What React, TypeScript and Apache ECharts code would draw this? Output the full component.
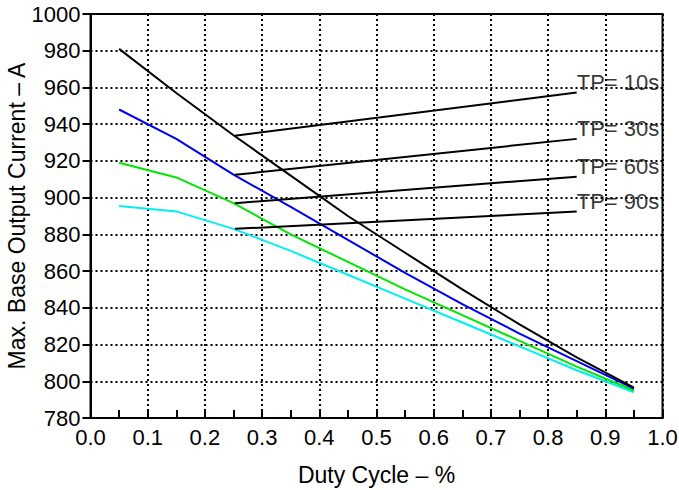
import React, { useEffect, useRef } from "react";
import * as echarts from "echarts";

const dutyCycle = [0.05, 0.15, 0.25, 0.35, 0.45, 0.55, 0.65, 0.75, 0.85, 0.95];
const tp10 = [981, 957, 934, 912, 890, 870, 850, 831, 813, 796.5];
const tp30 = [948, 932, 912.5, 895, 877, 859, 842, 826, 811, 796];
const tp60 = [919, 911, 897, 880, 865, 850, 836, 822, 808, 795];
const tp90 = [895.5, 892.5, 883, 871, 858, 845, 832, 819, 806, 794];

const seriesNames = ["TP= 10s", "TP= 30s", "TP= 60s", "TP= 90s"];
const seriesColors = ["#000000", "#0000f0", "#00e600", "#00f0f0"];

const leaderStartX = 0.2525;
const leaderStartY = [933.7, 912.4, 897, 883];
const leaderEndX = 0.85;
const leaderEndY = [957.2, 932, 911.4, 892.4];

const FONT = "'Liberation Sans', Arial, Helvetica, sans-serif";

export default function App() {
  const ref = useRef<HTMLDivElement>(null);

  useEffect(() => {
    if (!ref.current) return;
    const chart = echarts.init(ref.current, undefined, { renderer: "svg" });
    const values = [tp10, tp30, tp60, tp90];

    const dataSeries = values.map((vals, i) => ({
      name: seriesNames[i],
      type: "line",
      data: dutyCycle.map((x, j) => [x, vals[j]]),
      showSymbol: false,
      symbol: "none",
      lineStyle: { color: seriesColors[i], width: 2 },
      z: 3 + (3 - i),
    }));

    const leaderSeries = seriesNames.map((name, i) => ({
      name: name + " leader",
      type: "line",
      data: [
        [leaderStartX, leaderStartY[i]],
        [leaderEndX, leaderEndY[i]],
      ],
      symbol: "none",
      showSymbol: false,
      lineStyle: { color: "#000", width: 2 },
      z: 10,
    }));

    const labelSeries = {
      name: "labels",
      type: "scatter",
      symbol: "rect",
      symbolSize: 2,
      itemStyle: { color: "rgba(0,0,0,0)" },
      data: seriesNames.map((name, i) => ({
        value: [leaderEndX, leaderEndY[i]],
        name,
      })),
      label: {
        show: true,
        formatter: (p: any) => p.name,
        position: [1, -9],
        align: "left",
        verticalAlign: "middle",
        fontSize: 22,
        fontFamily: FONT,
        color: "#000",
      },
      z: 11,
      silent: true,
    };

    chart.setOption({
      animation: false,
      backgroundColor: "#fff",
      textStyle: { fontFamily: FONT },
      grid: {
        left: 90.5,
        right: 16.5,
        top: 14,
        bottom: 72,
        show: true,
        borderColor: "#000",
        borderWidth: 2,
        containLabel: false,
        outerBoundsMode: "none",
      },
      xAxis: {
        type: "value",
        min: 0,
        max: 1,
        interval: 0.1,
        name: "Duty Cycle – %",
        nameLocation: "middle",
        nameGap: 45,
        nameMoveOverlap: false,
        nameTextStyle: { fontSize: 23, color: "#000", fontFamily: FONT },
        axisLine: { show: true, lineStyle: { color: "#000", width: 2 } },
        axisTick: { show: true, inside: true, length: 8, lineStyle: { color: "#000", width: 2 } },
        minorTick: { show: true, splitNumber: 2, length: 8, lineStyle: { color: "#000", width: 2 } },
        axisLabel: {
          fontSize: 22,
          color: "#000",
          margin: 8,
          fontFamily: FONT,
          formatter: (v: number) => v.toFixed(1),
        },
        splitLine: { show: true, lineStyle: { color: "#000", width: 2, type: [2, 3] } },
      },
      yAxis: {
        type: "value",
        min: 780,
        max: 1000,
        interval: 20,
        name: "Max. Base Output Current – A",
        nameLocation: "middle",
        nameGap: 62,
        nameMoveOverlap: false,
        nameTextStyle: { fontSize: 23, color: "#000", fontFamily: FONT },
        axisLine: { show: true, lineStyle: { color: "#000", width: 2 } },
        axisTick: { show: true, inside: false, length: 8, lineStyle: { color: "#000", width: 2 } },
        axisLabel: {
          fontSize: 22,
          color: "#000",
          margin: 10,
          fontFamily: FONT,
          formatter: (v: number) => String(v),
        },
        splitLine: { show: true, lineStyle: { color: "#000", width: 2, type: [2, 3] } },
      },
      series: [...dataSeries, ...leaderSeries, labelSeries],
    });

    return () => chart.dispose();
  }, []);

  return (
    <div
      ref={ref}
      style={{ position: "fixed", left: 0, top: 0, width: 679, height: 490 }}
    />
  );
}
